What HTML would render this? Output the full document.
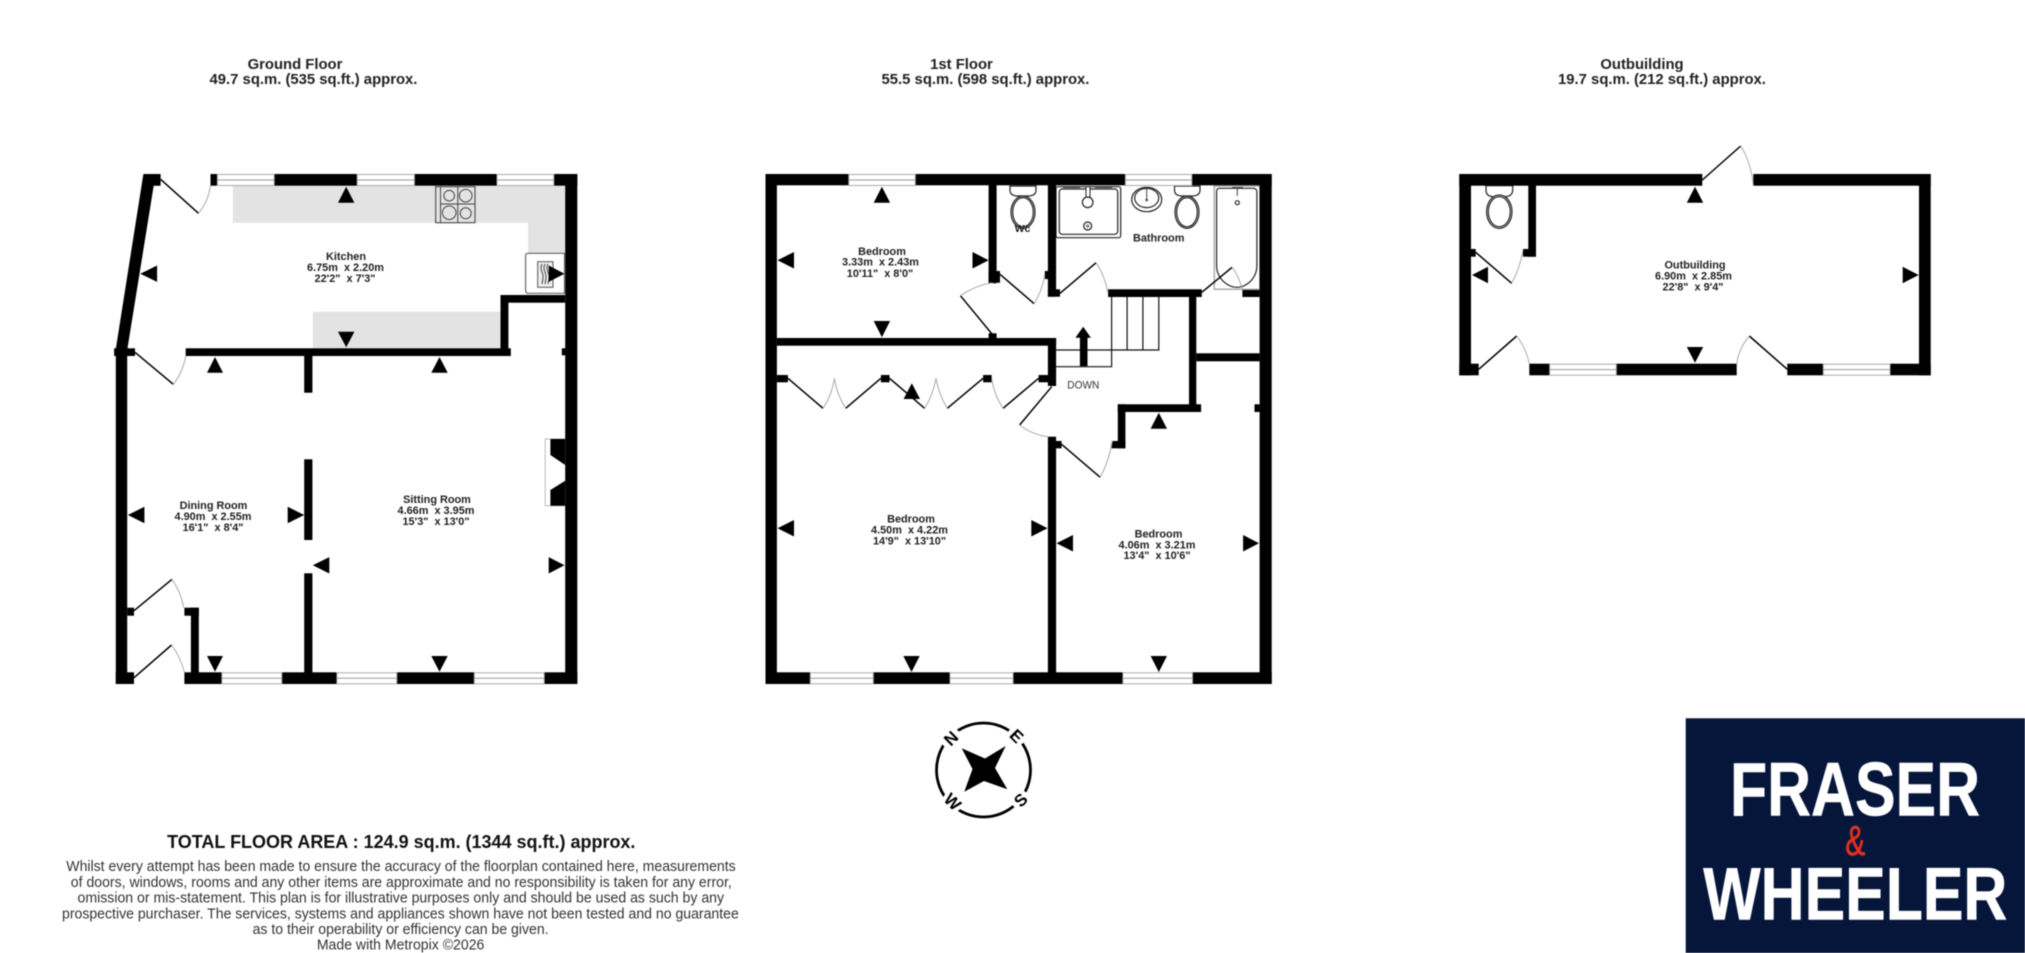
<!DOCTYPE html>
<html><head><meta charset="utf-8"><style>
html,body{margin:0;padding:0;background:#fff}
svg{display:block;filter:blur(.4px)}
text{font-family:"Liberation Sans",sans-serif}
.w{fill:#000}
.wn{fill:#fff;stroke:#aaa;stroke-width:1}
.m{stroke:#999;stroke-width:1;fill:none}
.d{stroke:#000;stroke-width:1.5;fill:none}
.a{stroke:#aaa;stroke-width:1;fill:none}
.f{stroke:#222;stroke-width:1.2;fill:#fff}
.f2{stroke:#444;stroke-width:1;fill:none}
.l{font-size:10.9px;font-weight:bold;fill:#222;text-anchor:middle}
.t{font-size:14.85px;font-weight:bold;fill:#222;text-anchor:middle}
.s{font-size:14.5px;fill:#333;text-anchor:middle}
</style></head><body>
<svg width="2025" height="953" viewBox="0 0 2025 953" xmlns="http://www.w3.org/2000/svg">
<rect width="2025" height="953" fill="#fff"/>

<!-- Titles -->
<text class="t" x="295" y="68.8">Ground Floor</text>
<text class="t" x="313.5" y="84">49.7 sq.m. (535 sq.ft.) approx.</text>
<text class="t" x="961.5" y="68.8">1st Floor</text>
<text class="t" x="985.5" y="84">55.5 sq.m. (598 sq.ft.) approx.</text>
<text class="t" x="1642" y="68.8">Outbuilding</text>
<text class="t" x="1662" y="84">19.7 sq.m. (212 sq.ft.) approx.</text>

<!-- ===== GROUND FLOOR ===== -->
<g fill="#e3e3e3">
<path d="M232.9 185.7H565.2V253.3H528V222.7H232.9Z"/>
<rect x="312.8" y="311.7" width="187.7" height="36.6"/>
</g>
<!-- hob -->
<g>
<rect x="435.7" y="186.7" width="39.3" height="36" fill="#e3e3e3" stroke="#555" stroke-width="1.2"/>
<path class="f2" d="M440.5 186.7V222.7M457.8 186.7V222.7M440.5 204H475"/>
<circle class="f2" cx="449.2" cy="195.7" r="5.3" stroke-width="1.2"/>
<circle class="f2" cx="465.7" cy="195.7" r="6.3" stroke-width="1.2"/>
<circle class="f2" cx="449.2" cy="212.7" r="6.8" stroke-width="1.2"/>
<circle class="f2" cx="465.7" cy="213.3" r="5.5" stroke-width="1.2"/>
</g>
<!-- oven -->
<path d="M564.5 253.3H528Q525.6 253.3 525.6 256V290Q525.6 293.3 528 293.3H564.5Z" fill="#fff" stroke="#666" stroke-width="1.2"/>
<rect x="537.7" y="261.7" width="15.3" height="25.6" fill="#eee" stroke="#555" stroke-width="1"/>
<path class="f2" d="M542 264q-2 4 0 8t0 12M545 264q-2 4 0 8t0 12M548 264q-2 4 0 8t0 12"/>

<!-- walls -->
<g class="w">
<path d="M143.4 174H160.6V185.7H153.7L127.2 350V356H115.8V349Z"/>
<rect x="114.1" y="348.3" width="20.9" height="7.7"/>
<rect x="210.5" y="174" width="6.9" height="11.7"/>
<rect x="274.2" y="174" width="83" height="11.7"/>
<rect x="414.4" y="174" width="82.6" height="11.7"/>
<rect x="553.8" y="174" width="23.5" height="11.7"/>
<rect x="565.2" y="174" width="12.1" height="510"/>
<rect x="115.8" y="348" width="11.4" height="336"/>
<rect x="185.7" y="348.3" width="325.1" height="7.7"/>
<rect x="500.5" y="295" width="7.9" height="55"/>
<rect x="500.5" y="295" width="64.7" height="7.7"/>
<rect x="561.8" y="348.3" width="4" height="7"/>
<rect x="304.2" y="350" width="8.2" height="42.7"/>
<rect x="304.2" y="459.3" width="8.2" height="80.7"/>
<rect x="304.2" y="573.3" width="8.2" height="105"/>
<rect x="115.8" y="672.3" width="18.2" height="11.7"/>
<rect x="184.4" y="672.3" width="37.5" height="11.7"/>
<rect x="281.8" y="672.3" width="55.1" height="11.7"/>
<rect x="396.8" y="672.3" width="77.5" height="11.7"/>
<rect x="544.2" y="672.3" width="33.1" height="11.7"/>
<rect x="127.2" y="607.7" width="6.8" height="8"/>
<rect x="184.4" y="607.7" width="14.4" height="8"/>
<rect x="190.9" y="607.7" width="7.9" height="66"/>
</g>
<!-- windows -->
<g>
<rect class="wn" x="217.4" y="174.5" width="56.8" height="11"/><path class="m" d="M217.4 180H274.2"/>
<rect class="wn" x="357.2" y="174.5" width="57.2" height="11"/><path class="m" d="M357.2 180H414.4"/>
<rect class="wn" x="497" y="174.5" width="56.8" height="11"/><path class="m" d="M497 180H553.8"/>
<rect class="wn" x="221.9" y="672.8" width="59.9" height="11"/><path class="m" d="M221.9 678.2H281.8"/>
<rect class="wn" x="336.9" y="672.8" width="59.9" height="11"/><path class="m" d="M336.9 678.2H396.8"/>
<rect class="wn" x="474.3" y="672.8" width="69.9" height="11"/><path class="m" d="M474.3 678.2H544.2"/>
</g>
<!-- doors -->
<path class="d" d="M160.6 179.3L198.5 213.3M135 352.3L173.3 384.3M134 610.7L172 579.3M134 677.7L171.6 645"/>
<path class="a" d="M198.5 213.3Q208 202 210.5 185.7M173.3 384.3Q183 372 185.7 356M172 579.3Q181 592 183.7 607.7M171.6 645Q181 658 184.4 672.3"/>
<!-- fireplace -->
<path d="M565 439H545.2V505.7H565" fill="#fff" stroke="#bbb" stroke-width="1"/>
<path class="w" d="M550.4 439H565.2V465L550.4 455ZM550.4 490L565.2 480.7V505.7H550.4Z"/>
<!-- arrows -->
<g class="w">
<path d="M338 202.7L346.2 186.7L354.4 202.7Z"/>
<path d="M157.1 265.5L140.3 273.7L157.1 281.9Z"/>
<path d="M338 331.7L354.4 331.7L346.2 347.3Z"/>
<path d="M548.7 265.5L564.5 273.7L548.7 281.9Z"/>
<path d="M207 372.7L215 357L223 372.7Z"/>
<path d="M431.3 372.7L439.5 357L447.7 372.7Z"/>
<path d="M144.4 506.8L127.9 515L144.4 523.2Z"/>
<path d="M287.7 506.8L304.2 515L287.7 523.2Z"/>
<path d="M329.3 557.1L312.8 565.3L329.3 573.5Z"/>
<path d="M548.7 557.1L564.5 565.3L548.7 573.5Z"/>
<path d="M207 656H223L215 671.7Z"/>
<path d="M431.3 656H447.7L439.5 671.7Z"/>
</g>
<text class="l" x="346" y="260">Kitchen</text>
<text class="l" x="345.5" y="271">6.75m&#160; x 2.20m</text>
<text class="l" x="345" y="281.8">22'2"&#160; x 7'3"</text>
<text class="l" x="213.5" y="509">Dining Room</text>
<text class="l" x="213" y="520">4.90m&#160; x 2.55m</text>
<text class="l" x="213" y="531">16'1"&#160; x 8'4"</text>
<text class="l" x="437" y="503">Sitting Room</text>
<text class="l" x="436" y="514">4.66m&#160; x 3.95m</text>
<text class="l" x="436" y="525">15'3"&#160; x 13'0"</text>

<!-- ===== FIRST FLOOR ===== -->
<!-- fixtures -->
<g>
<rect class="f" x="1056" y="186.7" width="64.7" height="51" rx="2" stroke="#555"/>
<rect class="f" x="1059.3" y="189" width="58.4" height="45.3" rx="3" stroke-width="1.5"/>
<path class="f2" d="M1063 187.5H1080M1095 187.5H1112"/>
<rect x="1086" y="186.7" width="4" height="11" fill="#fff" stroke="#222"/>
<circle class="f" cx="1087.7" cy="202.3" r="5.3"/>
<circle class="f" cx="1087.7" cy="226" r="4"/><circle cx="1087.7" cy="226" r="1.8" fill="#888"/>
<ellipse class="f" cx="1146.7" cy="199.5" rx="15" ry="12.2"/>
<ellipse class="f" cx="1146.7" cy="198" rx="12" ry="9.6"/>
<path class="f2" d="M1146.7 188V200" stroke-width="1.5"/>
<circle cx="1146.7" cy="200" r="1.4" fill="#555"/>
<path class="f" d="M1174.5 186H1200V190Q1200 196 1192 196H1182.5Q1174.5 196 1174.5 190Z"/>
<ellipse class="f" cx="1187" cy="212.2" rx="12" ry="16.2"/>
<ellipse class="f" cx="1187" cy="212.2" rx="10.3" ry="14.6"/>
<path class="f" d="M1010 186H1036V190Q1036 196 1028 196H1018Q1010 196 1010 190Z"/>
<ellipse class="f" cx="1023" cy="212.2" rx="12" ry="16.2"/>
<ellipse class="f" cx="1023" cy="212.2" rx="10.3" ry="14.6"/>
<rect x="1214.3" y="186" width="45.5" height="103.3" fill="#fff" stroke="#999" stroke-width="1.2"/>
<path class="f" d="M1219 188.3H1253Q1256.9 188.3 1256.9 192V265C1256.9 280 1245 287.3 1237 287.3C1229 287.3 1216.6 280 1216.6 265V192Q1216.6 188.3 1219 188.3Z"/>
<path class="f2" d="M1232 187.5H1243M1237.3 187V196" stroke-width="1.5"/>
<circle class="f" cx="1237.3" cy="202.7" r="2"/>
</g>
<g class="w">
<rect x="765.5" y="174" width="83.3" height="11.3"/>
<rect x="915.3" y="174" width="210.1" height="11.3"/>
<rect x="1191.8" y="174" width="79.9" height="11.3"/>
<rect x="765.5" y="174" width="11.4" height="510"/>
<rect x="1259.6" y="174" width="12.1" height="510"/>
<rect x="765.5" y="672.3" width="44.8" height="11.7"/>
<rect x="873.3" y="672.3" width="76.7" height="11.7"/>
<rect x="1013.1" y="672.3" width="109.8" height="11.7"/>
<rect x="1192.5" y="672.3" width="79.2" height="11.7"/>
<rect x="988.6" y="185" width="8" height="98.3"/>
<rect x="988.6" y="271" width="11.4" height="11.7"/>
<rect x="1047.9" y="185" width="8.2" height="111.7"/>
<rect x="1044.8" y="271" width="3.5" height="8"/>
<rect x="1047.9" y="289.3" width="12.1" height="7.4"/>
<rect x="988.6" y="333.3" width="8" height="6"/>
<rect x="776.9" y="338" width="279.2" height="7.7"/>
<rect x="1047.9" y="338" width="8.2" height="48"/>
<rect x="1038.6" y="375" width="10" height="7.3"/>
<rect x="776.9" y="375" width="11" height="7.3"/>
<rect x="880.9" y="375" width="8.6" height="7.3"/>
<rect x="983.1" y="375" width="8.6" height="7.3"/>
<rect x="1047.9" y="436.7" width="8.2" height="236"/>
<rect x="1056" y="441" width="5.6" height="7.3"/>
<rect x="1111.6" y="441" width="13.8" height="7.3"/>
<rect x="1117.8" y="404.3" width="7.6" height="44"/>
<rect x="1117.8" y="404.3" width="83.3" height="7.7"/>
<rect x="1189" y="296" width="7.3" height="110"/>
<rect x="1108.1" y="289.3" width="93.7" height="7.7"/>
<rect x="1242.4" y="290" width="17.2" height="7"/>
<rect x="1196.3" y="353.3" width="63.3" height="8"/>
<rect x="1254.5" y="404.3" width="5.1" height="7.7"/>
</g>
<g>
<rect class="wn" x="848.8" y="174.5" width="66.5" height="11"/><path class="m" d="M848.8 180H915.3"/>
<rect class="wn" x="1125.4" y="174.5" width="66.4" height="11"/><path class="m" d="M1125.4 180H1191.8"/>
<rect class="wn" x="810.3" y="672.8" width="63" height="11"/><path class="m" d="M810.3 678.2H873.3"/>
<rect class="wn" x="950" y="672.8" width="63.1" height="11"/><path class="m" d="M950 678.2H1013.1"/>
<rect class="wn" x="1122.9" y="672.8" width="69.6" height="11"/><path class="m" d="M1122.9 678.2H1192.5"/>
</g>
<!-- stairs -->
<path d="M1111.6 297V366.7H1056.1M1127.1 297V350M1142.9 297V350M1158.8 297V350H1056.1" fill="none" stroke="#111" stroke-width="1.2"/>
<path class="w" d="M1079.9 366V337.7H1075.4L1083.2 326.7L1090.9 337.7H1087.5V366Z"/>
<text x="1083.3" y="388.5" font-size="10.6" fill="#333" text-anchor="middle" textLength="32" lengthAdjust="spacingAndGlyphs">DOWN</text>
<!-- doors -->
<path class="d" d="M1000 274.3L1034.1 303.7M992.8 335L960.4 295.7M1060 293.3L1096.1 262.7M1201.8 292.3L1232.1 267.3M787.9 378.3L823 408.3M880.9 378.3L845.7 408.3M889.5 378.3L924.6 408.3M983.1 378.3L947.3 408.3M1003.1 408.3L1038.6 378.3M1051.7 386.7L1019.6 425M1061.6 444.3L1100.2 477.3"/>
<path class="a" d="M1034.1 303.7Q1042 291 1044.8 275M960.4 295.7Q976 285 992.8 282.7M1096.1 262.7Q1105 276 1108.1 293.3M1232.1 267.3Q1239 276 1242.4 290M823 408.3Q832 395 834.4 378.3Q837 395 845.7 408.3M924.6 408.3Q933 395 936 378.3Q939 395 947.3 408.3M991.7 378.3Q994 395 1003.1 408.3M1019.6 425Q1033 435 1047.9 436.7M1100.2 477.3Q1109 461 1112.3 441"/>
<!-- arrows -->
<g class="w">
<path d="M873.7 202.7L881.9 186.7L890.1 202.7Z"/>
<path d="M794 252L777.5 260.3L794 268.5Z"/>
<path d="M972.5 252L988.6 260.3L972.5 268.5Z"/>
<path d="M873.7 321H890.1L881.9 337.3Z"/>
<path d="M903.6 399L911.8 383.3L920 399Z"/>
<path d="M794 520L777.5 528.3L794 536.5Z"/>
<path d="M1031.3 520L1047.5 528.3L1031.3 536.5Z"/>
<path d="M903.3 656H919.7L911.5 672Z"/>
<path d="M1073 535L1056.5 543.3L1073 551.5Z"/>
<path d="M1243.1 535L1259 543.3L1243.1 551.5Z"/>
<path d="M1150.6 656H1167L1158.8 672Z"/>
<path d="M1150.6 428.7L1158.8 412.7L1167 428.7Z"/>
</g>
<text class="l" x="882" y="255">Bedroom</text>
<text class="l" x="880.5" y="265.7">3.33m&#160; x 2.43m</text>
<text class="l" x="880" y="277">10'11"&#160; x 8'0"</text>
<text class="l" x="911" y="522.3">Bedroom</text>
<text class="l" x="909.5" y="533.3">4.50m&#160; x 4.22m</text>
<text class="l" x="909.5" y="544.3">14'9"&#160; x 13'10"</text>
<text class="l" x="1158.5" y="537.3">Bedroom</text>
<text class="l" x="1157" y="548.3">4.06m&#160; x 3.21m</text>
<text class="l" x="1157" y="559">13'4"&#160; x 10'6"</text>
<text class="l" x="1022.5" y="232" style="font-size:10.5px">Wc</text>
<text class="l" x="1158.7" y="241.5">Bathroom</text>

<!-- ===== OUTBUILDING ===== -->
<path class="f" d="M1486 185.7H1512.7V190Q1512.7 196.7 1504 196.7H1494Q1486 196.7 1486 190Z"/>
<ellipse class="f" cx="1499.3" cy="211.7" rx="12.7" ry="16.7"/>
<ellipse class="f" cx="1499.3" cy="211.7" rx="11" ry="15"/>
<g class="w">
<rect x="1459.3" y="174" width="243" height="11.7"/>
<rect x="1753.3" y="174" width="177.4" height="11.7"/>
<rect x="1459.3" y="174" width="11.7" height="201.3"/>
<rect x="1919" y="174" width="11.7" height="201.3"/>
<rect x="1459.3" y="363.7" width="19.4" height="11.6"/>
<rect x="1529.3" y="363.7" width="20.4" height="11.6"/>
<rect x="1616.3" y="363.7" width="120.4" height="11.6"/>
<rect x="1787.3" y="363.7" width="36" height="11.6"/>
<rect x="1890" y="363.7" width="40.7" height="11.6"/>
<rect x="1528.3" y="185" width="7.7" height="71.7"/>
<rect x="1523" y="249" width="13" height="7.7"/>
<rect x="1471" y="249" width="4.7" height="7.7"/>
</g>
<rect class="wn" x="1549.7" y="364.2" width="66.6" height="11"/><path class="m" d="M1549.7 369.6H1616.3"/>
<rect class="wn" x="1823.3" y="364.2" width="66.7" height="11"/><path class="m" d="M1823.3 369.6H1890"/>
<path class="d" d="M1475.7 252.3L1511.7 283.3M1702.3 180L1740.7 146M1478.7 369.3L1516.7 336M1787.3 369.3L1749.3 336"/>
<path class="a" d="M1511.7 283.3Q1520 268 1523 250M1740.7 146Q1751 162 1753.3 185.7M1516.7 336Q1526 348 1529.3 363.7M1749.3 336Q1739 348 1736.7 363.7"/>
<g class="w">
<path d="M1686.8 202.7L1695 186.7L1703.2 202.7Z"/>
<path d="M1488 266.8L1472 275L1488 283.2Z"/>
<path d="M1902.7 266.8L1918.7 275L1902.7 283.2Z"/>
<path d="M1686.8 347H1703.2L1695 362.7Z"/>
</g>
<text class="l" x="1695" y="268.7">Outbuilding</text>
<text class="l" x="1693.5" y="279.7">6.90m&#160; x 2.85m</text>
<text class="l" x="1693" y="290.7">22'8"&#160; x 9'4"</text>

<!-- ===== COMPASS ===== -->
<circle cx="983.5" cy="770" r="47" fill="none" stroke="#000" stroke-width="2.8"/>
<path class="w" d="M961.7 748.3L985 758.5L1005.7 746L995 768L1007.3 789.3L984 781L964.3 791.7L972.5 769Z"/>
<g fill="#fff"><circle cx="951" cy="738.3" r="10.5"/><circle cx="1016.7" cy="736" r="9.5"/><circle cx="1020.7" cy="800" r="9.5"/><circle cx="952.7" cy="801.7" r="10.5"/></g>
<g font-size="17" font-weight="bold" fill="#000" text-anchor="middle">
<text transform="translate(951 738.3) rotate(-45)" y="6">N</text>
<text transform="translate(1016.7 736) rotate(45)" y="6">E</text>
<text transform="translate(1020.7 800) rotate(-45)" y="6">S</text>
<text transform="translate(952.7 801.7) rotate(45)" y="6">W</text>
</g>

<!-- ===== FOOTER ===== -->
<text x="401.3" y="848" font-size="18.7" font-weight="bold" fill="#111" text-anchor="middle" textLength="468.3" lengthAdjust="spacingAndGlyphs">TOTAL FLOOR AREA : 124.9 sq.m. (1344 sq.ft.) approx.</text>
<text class="s" x="401" y="871" textLength="669.4" lengthAdjust="spacingAndGlyphs">Whilst every attempt has been made to ensure the accuracy of the floorplan contained here, measurements</text>
<text class="s" x="401.3" y="887" textLength="661" lengthAdjust="spacingAndGlyphs">of doors, windows, rooms and any other items are approximate and no responsibility is taken for any error,</text>
<text class="s" x="400.8" y="902.7" textLength="646.5" lengthAdjust="spacingAndGlyphs">omission or mis-statement. This plan is for illustrative purposes only and should be used as such by any</text>
<text class="s" x="400.4" y="918.3" textLength="676.8" lengthAdjust="spacingAndGlyphs">prospective purchaser. The services, systems and appliances shown have not been tested and no guarantee</text>
<text class="s" x="400.6" y="934" textLength="296" lengthAdjust="spacingAndGlyphs">as to their operability or efficiency can be given.</text>
<text class="s" x="400.6" y="949.7" textLength="167.5" lengthAdjust="spacingAndGlyphs">Made with Metropix ©2026</text>

<!-- ===== LOGO ===== -->
<rect x="1685.7" y="718.3" width="339.3" height="234.7" fill="#06163a"/>
<text x="1855" y="815.7" font-size="76" font-weight="bold" fill="#fff" stroke="#fff" stroke-width=".6" text-anchor="middle" textLength="250" lengthAdjust="spacingAndGlyphs">FRASER</text>
<text x="1855.3" y="855" font-size="42" fill="#e0301e" stroke="#e0301e" stroke-width=".7" text-anchor="middle" textLength="20" lengthAdjust="spacingAndGlyphs">&amp;</text>
<text x="1855.3" y="919.3" font-size="74" font-weight="bold" fill="#fff" stroke="#fff" stroke-width=".6" text-anchor="middle" textLength="304" lengthAdjust="spacingAndGlyphs">WHEELER</text>
</svg>
</body></html>
